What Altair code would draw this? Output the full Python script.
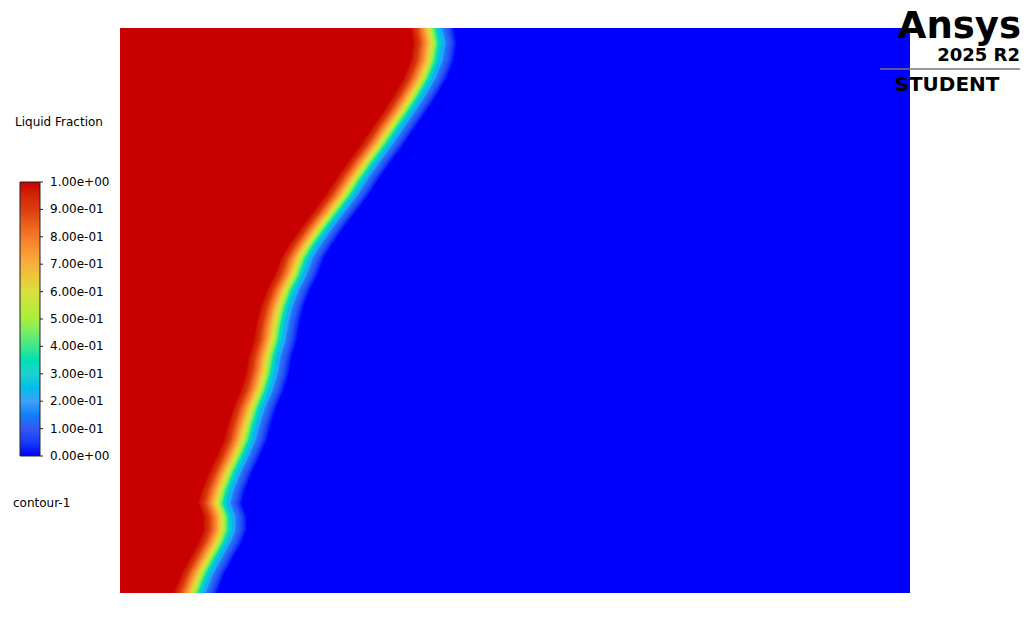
import altair as alt
import pandas as pd

# ---- data -----------------------------------------------------------------
# melt front (liquid fraction = 0.5 iso-line), domain is 140 mm x 100 mm
front_y_mm = [100.0, 97.4, 94.2, 91.2, 88.1, 85.3, 82.3, 79.3, 76.5, 73.5,
              70.4, 67.6, 64.6, 61.6, 59.3, 56.3, 53.6, 50.6, 47.8, 44.8,
              41.8, 38.9, 35.9, 32.9, 30.1, 27.1, 24.1, 21.2, 18.2, 15.9,
              13.5, 11.2, 8.9, 6.4, 3.5, 0.0]
front_x_mm = [55.3, 55.8, 55.3, 54.1, 52.3, 50.5, 48.4, 46.4, 44.3, 42.2,
              40.2, 38.1, 35.8, 33.7, 32.3, 31.2, 29.8, 28.7, 28.0, 27.5,
              26.6, 26.1, 25.2, 23.9, 23.0, 22.2, 20.9, 19.5, 18.3, 17.7,
              18.6, 18.6, 17.7, 16.3, 14.7, 13.3]

# contour bands across the mushy zone: horizontal offset of each iso-line
# from the front (mm) and the liquid fraction filling the region left of it
band_offset_mm = [3.75, 3.5, 3.25, 3.0, 2.75, 2.5, 2.25, 2.0, 1.75, 1.5,
                  1.25, 1.0, 0.75, 0.5, 0.25, 0.0, -0.25, -0.5, -0.75,
                  -1.0, -1.25, -1.5, -1.75, -2.0, -2.25, -2.5, -2.75, -3.0,
                  -3.25, -3.5, -3.75]
band_fraction = [0.02, 0.04, 0.06, 0.08, 0.10, 0.12, 0.14, 0.17, 0.20,
                 0.23, 0.27, 0.31, 0.36, 0.41, 0.46, 0.51, 0.56, 0.61,
                 0.65, 0.69, 0.73, 0.77, 0.80, 0.83, 0.86, 0.89, 0.92,
                 0.94, 0.96, 0.98, 1.0]

domain_x_mm = [0.0, 140.0]
domain_y_mm = [0.0, 100.0]

# colour map (Ansys rainbow)
cmap_values = [0.0, 0.1, 0.2, 0.3, 0.4, 0.5, 0.6, 0.7, 0.8, 0.9, 1.0]
cmap_colors = ["#0000ff", "#3558f2", "#3ea2f6", "#1fd2cf", "#3ee88a",
               "#a6f03e", "#d9e040", "#f8b040", "#f57a2a", "#dc3c10",
               "#c80000"]
# colour-bar label positions (end values nudged inside so labels centre)
legend_values = [0.00001, 0.1, 0.2, 0.3, 0.4, 0.5, 0.6, 0.7, 0.8, 0.9,
                 0.99999]
tick_values = [0.0, 0.1, 0.2, 0.3, 0.4, 0.5, 0.6, 0.7, 0.8, 0.9, 1.0]

# ---- tables --------------------------------------------------------------
rows = []
for k, (off, frac) in enumerate(zip(band_offset_mm, band_fraction)):
    for y, x in zip(front_y_mm, front_x_mm):
        rows.append({"k": k, "y": y, "x": x + off, "lf": frac})
bands = pd.DataFrame(rows)
domain = pd.DataFrame({"x": [domain_x_mm[0]], "x2": [domain_x_mm[1]],
                       "y": [domain_y_mm[0]], "y2": [domain_y_mm[1]],
                       "lf": [0.0]})
ticks = pd.DataFrame({"v": tick_values})

FONT = "DejaVu Sans"

xs = alt.Scale(domain=domain_x_mm, nice=False, zero=False)
ys = alt.Scale(domain=domain_y_mm, nice=False, zero=False)
cs = alt.Scale(domain=cmap_values, range=cmap_colors, type="linear")
legend = alt.Legend(
    orient="none", legendX=-100, legendY=154, direction="vertical",
    title=None, padding=0,
    gradientLength=274, gradientThickness=20,
    gradientStrokeColor="#222222", gradientStrokeWidth=1,
    values=legend_values,
    labelExpr="datum.value > 0.999 ? '1.00e+00' : datum.value < 0.001 ? '0.00e+00' : format(datum.value * 10, '.2f') + 'e-01'",
    labelFont=FONT, labelFontSize=12, labelColor="#000000",
    labelOffset=10, labelOverlap=False,
)
color = alt.Color("lf:Q", scale=cs, legend=legend)

base_rect = alt.Chart(domain).mark_rect().encode(
    x=alt.X("x:Q", scale=xs, axis=None),
    x2="x2:Q",
    y=alt.Y("y:Q", scale=ys, axis=None),
    y2="y2:Q",
    color=color,
)

layers = [base_rect]
for k in range(len(band_offset_mm)):
    layers.append(
        alt.Chart(bands).transform_filter(alt.datum.k == k)
        .mark_area(orient="horizontal", interpolate="linear")
        .encode(
            x=alt.X("x:Q", scale=xs, axis=None),
            x2=alt.datum(0),
            y=alt.Y("y:Q", scale=ys, axis=None),
            color=color,
        )
    )

# small tick marks on the right side of the colour bar
layers.append(
    alt.Chart(ticks).mark_rule(color="#222222", strokeWidth=1).encode(
        y=alt.Y("v:Q", scale=alt.Scale(domain=[0, 1], range=[428, 154]),
                axis=None),
        x=alt.value(-80), x2=alt.value(-77),
    )
)


def label(text, x, y, size=12, weight="normal", align="left",
          baseline="middle", font=FONT):
    return alt.Chart(pd.DataFrame({"t": [text]})).mark_text(
        font=font, fontSize=size, fontWeight=weight, align=align,
        baseline=baseline, color="#000000"
    ).encode(text="t:N", x=alt.value(x), y=alt.value(y))


layers.append(label("Liquid Fraction", -105, 94))
layers.append(label("contour-1", -107, 475))
layers.append(label("Ansys", 901, 10, size=37, weight="bold", align="right",
                    baseline="alphabetic"))
layers.append(label("2025 R2", 900, 28, size=18, weight="bold",
                    align="right"))
layers.append(
    alt.Chart(pd.DataFrame({"a": [0]})).mark_rule(color="#777777",
                                                 strokeWidth=1.5)
    .encode(x=alt.value(760), x2=alt.value(900), y=alt.value(41))
)
layers.append(label("STUDENT", 827, 57, size=20, weight="bold",
                    align="center"))

chart = alt.layer(*layers).resolve_scale(y="independent").properties(
    width=790, height=565,
    padding={"left": 112, "top": 20, "right": 113, "bottom": 21},
    autosize="none",
).configure_view(strokeWidth=0)

chart.save("out.html", embed_options={"renderer": "svg", "actions": False})
